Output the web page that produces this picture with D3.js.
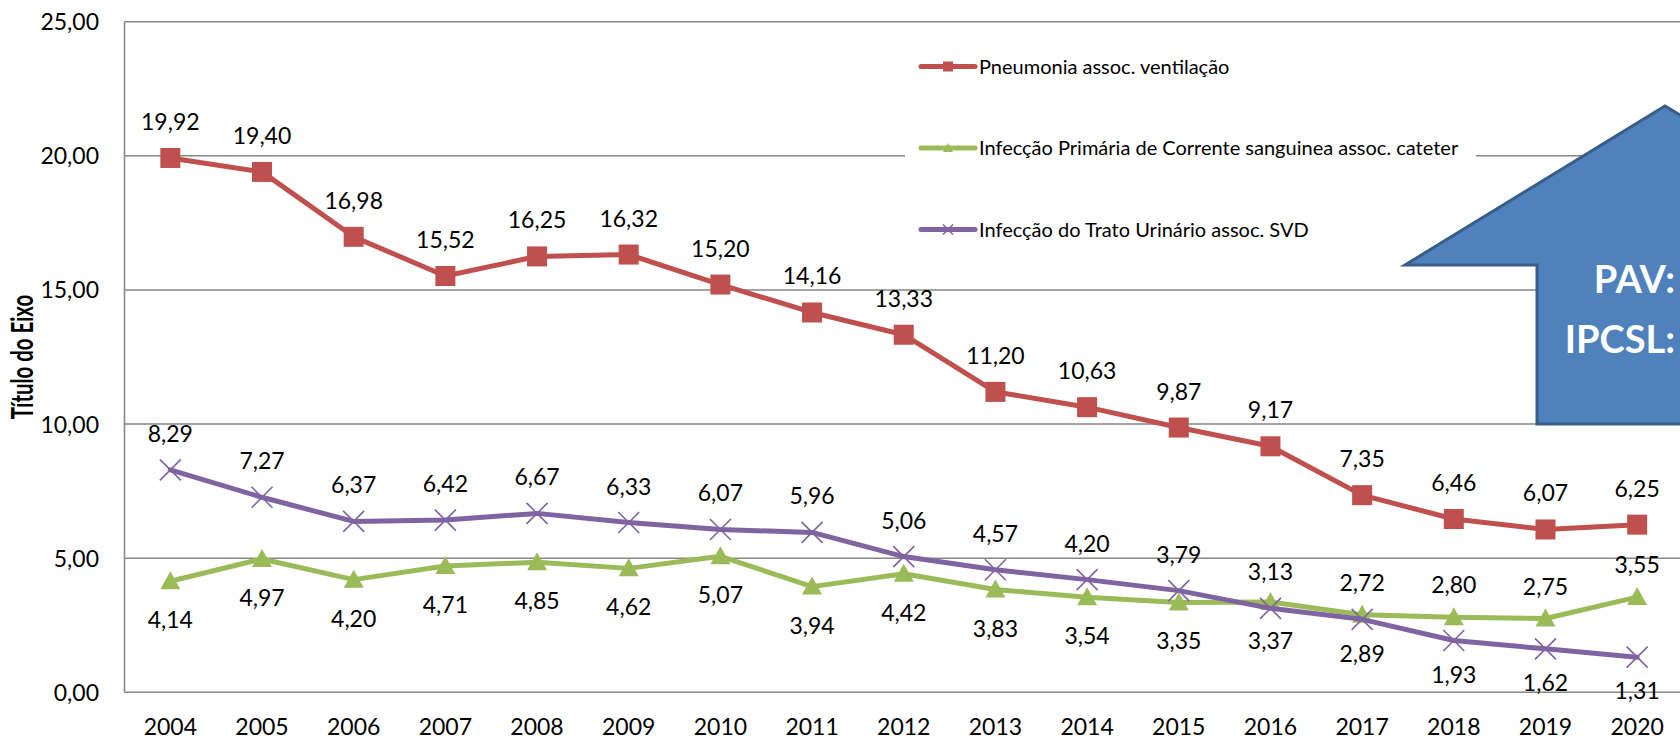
<!DOCTYPE html>
<html>
<head>
<meta charset="utf-8">
<script src="https://cdn.jsdelivr.net/npm/d3@7/dist/d3.min.js"></script>
<style>
  html, body { margin: 0; padding: 0; background: #fff; overflow: hidden; }
  svg { display: block; font-family: Lato, "Open Sans", sans-serif; }
</style>
</head>
<body>
<svg id="chart" width="1680" height="740"></svg>
<script>
const years = ["2004", "2005", "2006", "2007", "2008", "2009", "2010", "2011", "2012",
  "2013", "2014", "2015", "2016", "2017", "2018", "2019", "2020"];

const pav = [19.92, 19.40, 16.98, 15.52, 16.25, 16.32, 15.20, 14.16, 13.33,
  11.20, 10.63, 9.87, 9.17, 7.35, 6.46, 6.07, 6.25];
const ipcs = [4.14, 4.97, 4.20, 4.71, 4.85, 4.62, 5.07, 3.94, 4.42,
  3.83, 3.54, 3.35, 3.37, 2.89, 2.80, 2.75, 3.55];
const itu = [8.29, 7.27, 6.37, 6.42, 6.67, 6.33, 6.07, 5.96, 5.06,
  4.57, 4.20, 3.79, 3.13, 2.72, 1.93, 1.62, 1.31];

const yTicks = [0, 5, 10, 15, 20, 25];
const seriesNames = [
  "Pneumonia assoc. ventilação",
  "Infecção Primária de Corrente sanguinea assoc. cateter",
  "Infecção do Trato Urinário assoc. SVD"
];
const axisTitle = "Título do Eixo";
const arrowLines = ["PAV:", "IPCSL:"];

const svg = d3.select("#chart");
const plotLeft = 124.5, plotRight = 1683, plotTop = 21.7, plotBottom = 692.3;

const x = d3.scaleBand().domain(years).range([plotLeft, plotRight]).padding(0);
const y = d3.scaleLinear().domain([0, 25]).range([plotBottom, plotTop]);
const cx = d => x(d) + x.bandwidth() / 2;

const fmt = v => d3.format(".2f")(v).replace(".", ",");
const gridColor = "#878787";
const labelSize = 23;

// gridlines
svg.append("g").selectAll("line")
  .data(yTicks)
  .join("line")
  .attr("x1", plotLeft).attr("x2", plotRight)
  .attr("y1", d => y(d)).attr("y2", d => y(d))
  .attr("stroke", gridColor).attr("stroke-width", 1.6);

// y axis line
svg.append("line")
  .attr("x1", plotLeft).attr("x2", plotLeft)
  .attr("y1", plotTop).attr("y2", plotBottom)
  .attr("stroke", gridColor).attr("stroke-width", 1.6);

// y tick labels
svg.append("g").selectAll("text")
  .data(yTicks)
  .join("text")
  .attr("x", 99)
  .attr("y", d => y(d) + 8.5)
  .attr("text-anchor", "end")
  .attr("font-size", labelSize)
  .attr("fill", "#000")
  .text(d => fmt(d));

// x tick labels
svg.append("g").selectAll("text")
  .data(years)
  .join("text")
  .attr("x", d => cx(d))
  .attr("y", 735)
  .attr("text-anchor", "middle")
  .attr("font-size", labelSize)
  .attr("fill", "#000")
  .text(d => d);

// axis title (the source chart is stretched sideways, so the rotated title is squeezed along its length)
svg.append("text")
  .attr("transform", "translate(33," + ((plotTop + plotBottom) / 2) + ")rotate(-90)scale(0.68,1)")
  .attr("text-anchor", "middle")
  .attr("font-size", 30)
  .attr("font-weight", "bold")
  .text(axisTitle);

// legend background, hides the gridline behind it
svg.append("rect")
  .attr("x", 905).attr("y", 40)
  .attr("width", 571).attr("height", 215)
  .attr("fill", "#fff");

const series = [
  {name: seriesNames[0], values: pav, color: "#C0504D", marker: "square"},
  {name: seriesNames[1], values: ipcs, color: "#9BBB59", marker: "triangle"},
  {name: seriesNames[2], values: itu, color: "#8064A2", marker: "x"}
];

function drawMarker(g, type, color, px, py, s) {
  if (type === "square") {
    g.append("rect")
      .attr("x", px - s / 2).attr("y", py - s / 2)
      .attr("width", s).attr("height", s)
      .attr("fill", color);
  } else if (type === "triangle") {
    g.append("path")
      .attr("d", "M" + px + "," + (py - s * 0.5) + "L" + (px + s / 2) + "," + (py + s * 0.4) +
        "L" + (px - s / 2) + "," + (py + s * 0.4) + "Z")
      .attr("fill", color);
  } else {
    const h = s / 2;
    g.append("path")
      .attr("d", "M" + (px - h) + "," + (py - h) + "L" + (px + h) + "," + (py + h) +
        "M" + (px - h) + "," + (py + h) + "L" + (px + h) + "," + (py - h))
      .attr("stroke", color).attr("stroke-width", 1.6).attr("fill", "none");
  }
}

const line = d3.line().x((d, i) => cx(years[i])).y(d => y(d));

series.forEach(s => {
  svg.append("path")
    .datum(s.values)
    .attr("d", line)
    .attr("fill", "none")
    .attr("stroke", s.color)
    .attr("stroke-width", 5)
    .attr("stroke-linejoin", "round")
    .attr("stroke-linecap", "round");
  const g = svg.append("g");
  s.values.forEach((v, i) => drawMarker(g, s.marker, s.color, cx(years[i]), y(v), s.marker === "x" ? 21 : 20));
});

// data labels: red always above; green/purple swap when the green is clearly higher
function labelAbove(si, i) {
  if (si === 0) return true;
  const gap = ipcs[i] - itu[i];
  if (gap > 0.5) return si === 1;
  return si === 2;
}

series.forEach((s, si) => {
  svg.append("g").selectAll("text")
    .data(s.values)
    .join("text")
    .attr("x", (d, i) => cx(years[i]))
    .attr("y", (d, i) => {
      const above = labelAbove(si, i);
      if (above) return y(d) - (si === 1 ? 24 : 28);
      return y(d) + (si === 2 ? 42 : 47);
    })
    .attr("text-anchor", "middle")
    .attr("font-size", labelSize)
    .attr("fill", "#000")
    .text(d => fmt(d));
});

// legend
const legendRows = [66.5, 148, 229.5];
series.forEach((s, i) => {
  const g = svg.append("g");
  g.append("line")
    .attr("x1", 921).attr("x2", 975)
    .attr("y1", legendRows[i]).attr("y2", legendRows[i])
    .attr("stroke", s.color).attr("stroke-width", 5)
    .attr("stroke-linecap", "round");
  drawMarker(g, s.marker, s.color, 948, legendRows[i], 10);
  g.append("text")
    .attr("x", 979)
    .attr("y", legendRows[i] + 7)
    .attr("font-size", 20)
    .attr("fill", "#000")
    .text(s.name);
});

// blue up arrow annotation
const arrow = [[1665, 106], [1927, 265], [1793, 265], [1793, y(10)],
  [1537, y(10)], [1537, 265], [1405, 265]];
svg.append("path")
  .attr("d", "M" + arrow.map(p => p.join(",")).join("L") + "Z")
  .attr("fill", "#4F81BD")
  .attr("stroke", "#385D8A")
  .attr("stroke-width", 3)
  .attr("stroke-linejoin", "miter");

svg.append("g").selectAll("text")
  .data(arrowLines)
  .join("text")
  .attr("x", 1675)
  .attr("y", (d, i) => 293 + i * 60)
  .attr("text-anchor", "end")
  .attr("font-size", 38)
  .attr("font-weight", "bold")
  .attr("fill", "#fff")
  .text(d => d);
</script>
</body>
</html>
